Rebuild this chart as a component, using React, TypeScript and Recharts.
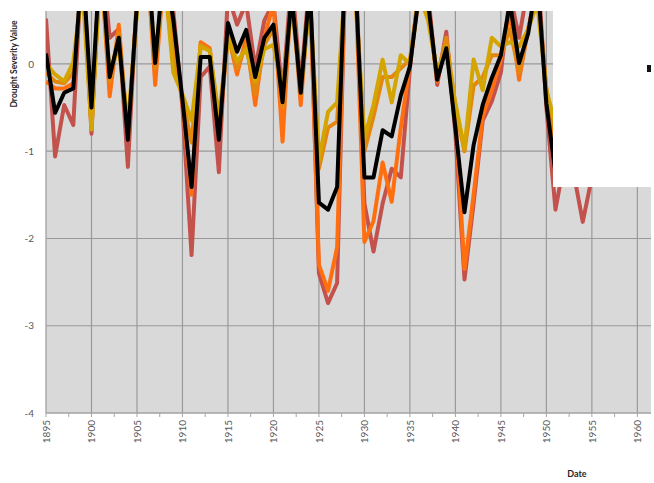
import React from 'react'
import { LineChart, Line, XAxis, YAxis, CartesianGrid } from 'recharts'

const YEARS = [
  1895, 1896, 1897, 1898, 1899, 1900, 1901, 1902, 1903, 1904,
  1905, 1906, 1907, 1908, 1909, 1910, 1911, 1912, 1913, 1914,
  1915, 1916, 1917, 1918, 1919, 1920, 1921, 1922, 1923, 1924,
  1925, 1926, 1927, 1928, 1929, 1930, 1931, 1932, 1933, 1934,
  1935, 1936, 1937, 1938, 1939, 1940, 1941, 1942, 1943, 1944,
  1945, 1946, 1947, 1948, 1949, 1950, 1951, 1952, 1953, 1954,
  1955,
]

const RED = [
  0.52, -1.06, -0.47, -0.7, 1.3, -0.8, 1.4, 0.3, 0.4, -1.18,
  0.8, 1.5, 0.7, 1.3, 0.6, -0.5, -2.19, -0.15, -0.03, -1.24,
  0.8, 0.45, 0.7, -0.05, 0.5, 0.7, -0.35, 1.0, -0.25, 1.0,
  -2.4, -2.74, -2.51, 1.5, 1.2, -1.6, -2.15, -1.6, -1.2, -1.3,
  -0.05, 0.9, 0.8, -0.24, 0.37, -0.8, -2.47, -1.6, -0.65, -0.43,
  -0.1, 0.8, 0.3, 0.9, 1.2, -0.5, -1.67, -1.1, -1.25, -1.81,
  -1.3,
]

const ORANGE = [
  -0.2, -0.28, -0.28, -0.22, 1.1, -0.7, 1.2, -0.37, 0.45, -0.85,
  0.7, 1.4, -0.24, 1.1, 0.3, -0.45, -1.5, 0.25, 0.18, -0.85,
  0.35, -0.12, 0.3, -0.47, 0.3, 0.7, -0.89, 0.9, -0.47, 0.9,
  -2.3, -2.6, -2.1, 1.4, 1.0, -2.04, -1.8, -1.13, -1.58, -0.73,
  0.0, 0.8, 0.7, -0.2, 0.25, -0.6, -2.35, -1.5, -0.6, -0.3,
  0.05, 0.6, -0.18, 0.4, 0.9, -0.3, -0.9, null, null, null,
  null,
]

const AMBER = [
  -0.1, -0.2, -0.22, -0.1, 1.0, -0.72, 1.2, -0.2, 0.35, -0.8,
  0.65, 1.3, -0.05, 1.1, 0.1, -0.4, -0.9, 0.22, 0.16, -0.7,
  0.32, -0.05, 0.22, -0.35, 0.22, 0.4, -0.5, 0.8, -0.35, 0.8,
  -1.2, -0.73, -0.66, 1.2, 0.9, -1.0, -0.6, -0.15, -0.15, -0.05,
  0.05, 0.8, 0.6, -0.15, 0.3, -0.5, -1.0, -0.25, -0.15, 0.1,
  0.1, 0.4, -0.1, 0.4, 0.8, -0.3, -0.8, null, null, null,
  null,
]

const GOLD = [
  0.0, -0.12, -0.2, 0.02, 0.9, -0.75, 1.1, -0.1, 0.2, -0.7,
  0.6, 1.2, 0.08, 1.0, -0.1, -0.35, -0.65, 0.2, 0.15, -0.6,
  0.3, 0.03, 0.17, -0.2, 0.17, 0.22, -0.3, 0.7, -0.3, 0.7,
  -1.1, -0.55, -0.44, 1.1, 0.8, -0.85, -0.47, 0.05, -0.44, 0.1,
  0.0, 0.8, 0.5, -0.1, 0.2, -0.45, -0.97, 0.05, -0.3, 0.3,
  0.2, 0.25, 0.2, 0.4, 0.7, -0.3, -0.7, null, null, null,
  null,
]

const BLACK = [
  0.12, -0.56, -0.33, -0.28, 1.2, -0.5, 1.3, -0.15, 0.3, -0.87,
  0.7, 1.5, 0.01, 1.2, 0.5, -0.41, -1.41, 0.08, 0.08, -0.87,
  0.47, 0.14, 0.39, -0.15, 0.3, 0.45, -0.44, 0.8, -0.33, 0.9,
  -1.59, -1.67, -1.41, 1.5, 1.0, -1.3, -1.3, -0.76, -0.83, -0.36,
  -0.03, 0.8, 0.7, -0.18, 0.18, -0.73, -1.7, -0.93, -0.47, -0.16,
  0.1, 0.7, 0.01, 0.35, 1.0, -0.45, -1.25, null, null, null,
  null,
]

const X_TICKS = [
  1895, 1897.5, 1900, 1902.5, 1905, 1907.5, 1910, 1912.5, 1915, 1917.5,
  1920, 1922.5, 1925, 1927.5, 1930, 1932.5, 1935, 1937.5, 1940, 1942.5,
  1945, 1947.5, 1950, 1952.5, 1955, 1957.5, 1960,
]
const GRID_YEARS = [1895, 1900, 1905, 1910, 1915, 1920, 1925, 1930, 1935, 1940, 1945, 1950, 1955, 1960]
const Y_TICKS = [-4, -3, -2, -1, 0]

const data = YEARS.map((year, i) => ({
  year,
  red: RED[i],
  orange: ORANGE[i],
  amber: AMBER[i],
  gold: GOLD[i],
  black: BLACK[i],
}))

const FONT = 'Lato, "Open Sans", sans-serif'

function YearTick(props: any) {
  const { x, y, payload } = props
  if (payload.value % 5 !== 0) return null
  return (
    <text
      x={x}
      y={y}
      transform={`rotate(-90, ${x}, ${y})`}
      textAnchor="end"
      dominantBaseline="central"
      fontSize={10}
      fontFamily={FONT}
      fill="#595959"
    >
      {payload.value}
    </text>
  )
}

function YLabel(props: any) {
  const { viewBox } = props
  const cx = viewBox.x + 14
  const cy = viewBox.y + 53
  return (
    <text
      x={cx}
      y={cy}
      transform={`rotate(-90, ${cx}, ${cy})`}
      textAnchor="middle"
      dominantBaseline="central"
      fontSize={8.5}
      fontWeight="bold"
      fontFamily={FONT}
      fill="#262626"
    >
      Drought Severity Value
    </text>
  )
}

function XLabel(props: any) {
  const { viewBox } = props
  return (
    <text
      x={viewBox.x + 531}
      y={viewBox.y + 60}
      textAnchor="middle"
      dominantBaseline="central"
      fontSize={9}
      fontWeight="bold"
      fontFamily={FONT}
      fill="#262626"
    >
      Date
    </text>
  )
}

export default function App() {
  return (
    <div style={{ position: 'absolute', left: 0, top: 0, width: 654, height: 483, background: '#fff' }}>
      <LineChart width={654} height={483} data={data} margin={{ top: 11, right: 3, bottom: 0, left: 0 }}>
        <CartesianGrid
          fill="#d9d9d9"
          stroke="#9a9a9a"
          strokeWidth={1.2}
          verticalValues={GRID_YEARS}
          horizontalValues={Y_TICKS}
        />
        <XAxis
          dataKey="year"
          type="number"
          domain={[1895, 1961.5]}
          ticks={X_TICKS}
          interval={0}
          height={70}
          tick={<YearTick />}
          tickSize={4}
          tickMargin={3}
          stroke="#a6a6a6"
          allowDataOverflow
          label={<XLabel />}
        />
        <YAxis
          type="number"
          domain={[-4, 0.607]}
          ticks={Y_TICKS}
          allowDataOverflow
          width={46}
          axisLine={false}
          tickLine={false}
          tickSize={0}
          tickMargin={12}
          tick={{ fontSize: 10, fill: '#595959', fontFamily: FONT }}
          label={<YLabel />}
        />
        <Line dataKey="red" stroke="#c4524c" strokeWidth={4} dot={false} strokeLinejoin="round" isAnimationActive={false} />
        <Line dataKey="orange" stroke="#ff6f10" strokeWidth={4} dot={false} strokeLinejoin="round" isAnimationActive={false} />
        <Line dataKey="amber" stroke="#e3870f" strokeWidth={4} dot={false} strokeLinejoin="round" isAnimationActive={false} />
        <Line dataKey="gold" stroke="#d4a500" strokeWidth={4} dot={false} strokeLinejoin="round" isAnimationActive={false} />
        <Line dataKey="black" stroke="#000000" strokeWidth={4} dot={false} strokeLinejoin="round" isAnimationActive={false} />
      </LineChart>
      <div style={{ position: 'absolute', left: 553, top: 11, width: 101, height: 176, background: '#fff' }}>
        <div style={{ position: 'absolute', left: 94, top: 54, width: 4, height: 7, background: '#111' }} />
      </div>
    </div>
  )
}
